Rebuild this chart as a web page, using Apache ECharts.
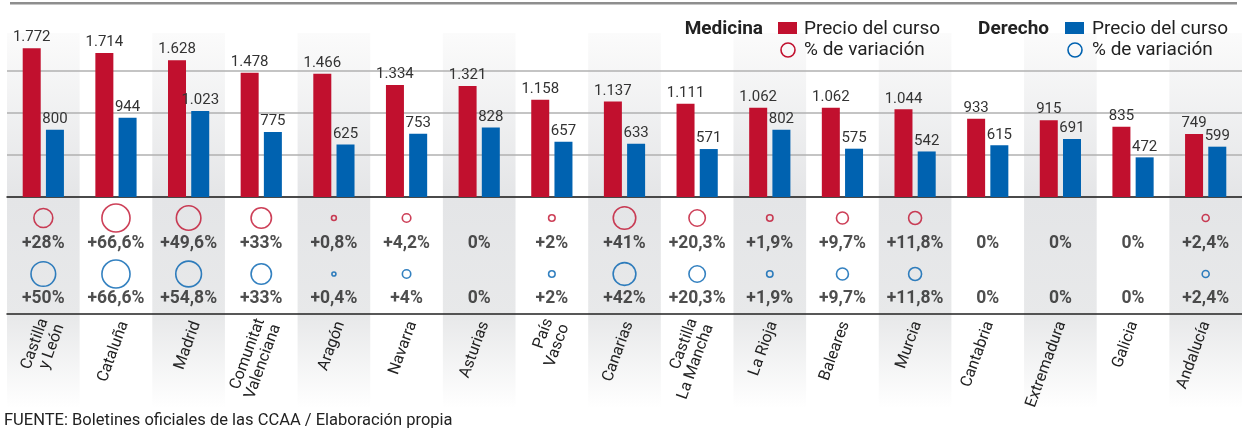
<!DOCTYPE html>
<html>
  <head>
    <meta charset="utf-8" />
    <title>Precio del curso Medicina / Derecho</title>
    <script src="https://cdn.jsdelivr.net/npm/echarts@6/dist/echarts.min.js"></script>
    <style>
      html, body { margin: 0; padding: 0; background: #fff; }
      #main { width: 1242px; height: 434px; }
    </style>
  </head>
  <body>
    <div id="main"></div>
    <script>
      // datos
      var categorias = ['Castilla\ny León', 'Cataluña', 'Madrid', 'Comunitat\nValenciana', 'Aragón', 'Navarra',
        'Asturias', 'País\nVasco', 'Canarias', 'Castilla\nLa Mancha', 'La Rioja', 'Baleares', 'Murcia',
        'Cantabria', 'Extremadura', 'Galicia', 'Andalucía']
      var precioMedicina = [1772, 1714, 1628, 1478, 1466, 1334, 1321, 1158, 1137, 1111, 1062, 1062, 1044, 933, 915, 835, 749]
      var precioDerecho = [800, 944, 1023, 775, 625, 753, 828, 657, 633, 571, 802, 575, 542, 615, 691, 472, 599]
      var variacionMedicina = [28, 66.6, 49.6, 33, 0.8, 4.2, 0, 2, 41, 20.3, 1.9, 9.7, 11.8, 0, 0, 0, 2.4]
      var variacionDerecho = [50, 66.6, 54.8, 33, 0.4, 4, 0, 2, 42, 20.3, 1.9, 9.7, 11.8, 0, 0, 0, 2.4]
      var ticksPrecio = [0, 500, 1000, 1500, 2000]

      var ROJO = '#c1102e'
      var AZUL = '#0062b0'
      var FUENTE = 'Roboto, "Noto Sans", sans-serif'
      var LEFT = 7
      var W = 73.25 * categorias.length

      // filas del bloque de variación
      var FILA_CIRC_MED = 96, FILA_TXT_MED = 70, FILA_CIRC_DER = 40, FILA_TXT_DER = 15

      function fmtMiles(v) {
        return String(v).replace(/\B(?=(\d{3})+(?!\d))/g, '.')
      }
      function fmtPct(v) {
        if (v === 0) return '0%'
        return '+' + String(v).replace('.', ',') + '%'
      }
      function tam(v) {
        return v === 0 ? 0 : 3.2 * Math.sqrt(v) + 2
      }
      function puntos(arr, fila) {
        return arr.map(function (v, i) { return [i, fila, v] })
      }

      var myChart = echarts.init(document.getElementById('main'))

      var option = {
        backgroundColor: '#fff',
        animation: false,
        textStyle: { fontFamily: FUENTE },
        grid: [
          { left: LEFT, width: W, top: 33, height: 375 },   // fondo
          { left: LEFT, width: W, top: 29, height: 168 },   // barras
          { left: LEFT, width: W, top: 197, height: 117 },  // variación
          { left: LEFT + 9, width: W, top: 313, height: 1 } // etiquetas
        ],
        xAxis: [
          { gridIndex: 0, type: 'category', data: categorias, show: false },
          {
            gridIndex: 1, type: 'category', data: categorias, z: 1,
            axisLine: { lineStyle: { color: '#222', width: 1.5 } },
            axisTick: { show: false }, axisLabel: { show: false }
          },
          {
            gridIndex: 2, type: 'category', data: categorias, z: 1,
            axisLine: { lineStyle: { color: '#222', width: 1.5 } },
            axisTick: { show: false }, axisLabel: { show: false }
          },
          {
            gridIndex: 3, type: 'category', data: categorias, z: 1,
            axisLine: { show: false }, axisTick: { show: false },
            axisLabel: {
              rotate: 70, margin: 8, fontSize: 16, color: '#222',
              lineHeight: 17, fontFamily: FUENTE, interval: 0
            }
          }
        ],
        yAxis: [
          { gridIndex: 0, type: 'value', min: 0, max: 1, show: false },
          {
            gridIndex: 1, type: 'value', z: 1,
            min: ticksPrecio[0], max: ticksPrecio[ticksPrecio.length - 1], interval: 500,
            axisLine: { show: false }, axisTick: { show: false }, axisLabel: { show: false },
            splitLine: {
              lineStyle: {
                color: ticksPrecio.map(function (t, i) { return i === ticksPrecio.length - 1 ? 'rgba(0,0,0,0)' : '#b0b0b0' }),
                width: 1.5
              }
            }
          },
          { gridIndex: 2, type: 'value', min: 0, max: 117, show: false },
          { gridIndex: 3, type: 'value', min: 0, max: 1, show: false }
        ],
        series: [
          {
            type: 'bar', xAxisIndex: 0, yAxisIndex: 0, barCategoryGap: 0, silent: true, z: -1,
            data: categorias.map(function (c, i) { return i % 2 === 0 ? 1 : '-' }),
            itemStyle: {
              color: new echarts.graphic.LinearGradient(0, 0, 0, 1, [
                { offset: 0, color: '#fbfbfb' },
                { offset: 0.44, color: '#e4e5e7' },
                { offset: 0.76, color: '#e8e9ea' },
                { offset: 1, color: '#ffffff' }
              ])
            }
          },
          {
            name: 'Medicina', type: 'bar', xAxisIndex: 1, yAxisIndex: 1,
            data: precioMedicina, barWidth: 18, barGap: '29%',
            itemStyle: { color: ROJO },
            label: {
              show: true, position: 'top', distance: 3, fontSize: 15, color: '#333',
              formatter: function (p) { return fmtMiles(p.value) }
            }
          },
          {
            name: 'Derecho', type: 'bar', xAxisIndex: 1, yAxisIndex: 1,
            data: precioDerecho, barWidth: 18, barGap: '29%',
            itemStyle: { color: AZUL },
            label: {
              show: true, position: 'top', distance: 3, fontSize: 15, color: '#333',
              formatter: function (p) { return fmtMiles(p.value) }
            }
          },
          {
            type: 'scatter', xAxisIndex: 2, yAxisIndex: 2,
            data: puntos(variacionMedicina, FILA_CIRC_MED),
            symbolSize: function (d) { return tam(d[2]) },
            itemStyle: { color: 'rgba(255,255,255,0)', borderColor: ROJO, borderWidth: 1.6 }
          },
          {
            type: 'scatter', xAxisIndex: 2, yAxisIndex: 2,
            data: puntos(variacionDerecho, FILA_CIRC_DER),
            symbolSize: function (d) { return tam(d[2]) },
            itemStyle: { color: 'rgba(255,255,255,0)', borderColor: AZUL, borderWidth: 1.6 }
          },
          {
            type: 'scatter', xAxisIndex: 2, yAxisIndex: 2,
            data: puntos(variacionMedicina, FILA_TXT_MED), symbolSize: 1,
            itemStyle: { color: 'rgba(0,0,0,0)' },
            label: {
              show: true, position: 'inside', fontSize: 17.5, fontWeight: 'bold', color: '#222',
              formatter: function (p) { return fmtPct(p.value[2]) }
            }
          },
          {
            type: 'scatter', xAxisIndex: 2, yAxisIndex: 2,
            data: puntos(variacionDerecho, FILA_TXT_DER), symbolSize: 1,
            itemStyle: { color: 'rgba(0,0,0,0)' },
            label: {
              show: true, position: 'inside', fontSize: 17.5, fontWeight: 'bold', color: '#222',
              formatter: function (p) { return fmtPct(p.value[2]) }
            }
          }
        ],
        graphic: [
          // línea superior
          { type: 'rect', z: 100, shape: { x: 10, y: 2, width: 1227, height: 2.5 }, style: { fill: '#8e8e8e' } },
          // leyenda Medicina
          { type: 'text', z: 100, style: { x: 763, y: 29, text: 'Medicina', align: 'right', verticalAlign: 'middle', font: 'bold 19px ' + FUENTE, fill: '#222' } },
          { type: 'rect', z: 100, shape: { x: 778, y: 22, width: 19, height: 12 }, style: { fill: ROJO } },
          { type: 'text', z: 100, style: { x: 804, y: 29, text: 'Precio del curso', verticalAlign: 'middle', font: '19px ' + FUENTE, fill: '#222' } },
          { type: 'circle', z: 100, shape: { cx: 788, cy: 50, r: 7 }, style: { fill: 'none', stroke: ROJO, lineWidth: 1.6 } },
          { type: 'text', z: 100, style: { x: 804, y: 50, text: '% de variación', verticalAlign: 'middle', font: '19px ' + FUENTE, fill: '#222' } },
          // leyenda Derecho
          { type: 'text', z: 100, style: { x: 1049, y: 29, text: 'Derecho', align: 'right', verticalAlign: 'middle', font: 'bold 19px ' + FUENTE, fill: '#222' } },
          { type: 'rect', z: 100, shape: { x: 1065, y: 22, width: 19, height: 12 }, style: { fill: AZUL } },
          { type: 'text', z: 100, style: { x: 1092, y: 29, text: 'Precio del curso', verticalAlign: 'middle', font: '19px ' + FUENTE, fill: '#222' } },
          { type: 'circle', z: 100, shape: { cx: 1075, cy: 50, r: 7 }, style: { fill: 'none', stroke: AZUL, lineWidth: 1.6 } },
          { type: 'text', z: 100, style: { x: 1092, y: 50, text: '% de variación', verticalAlign: 'middle', font: '19px ' + FUENTE, fill: '#222' } },
          // fuente
          { type: 'text', z: 100, style: { x: 4, y: 421, text: 'FUENTE: Boletines oficiales de las CCAA / Elaboración propia', verticalAlign: 'middle', font: '16.5px ' + FUENTE, fill: '#222' } }
        ]
      }
      myChart.setOption(option)
    </script>
  </body>
</html>
